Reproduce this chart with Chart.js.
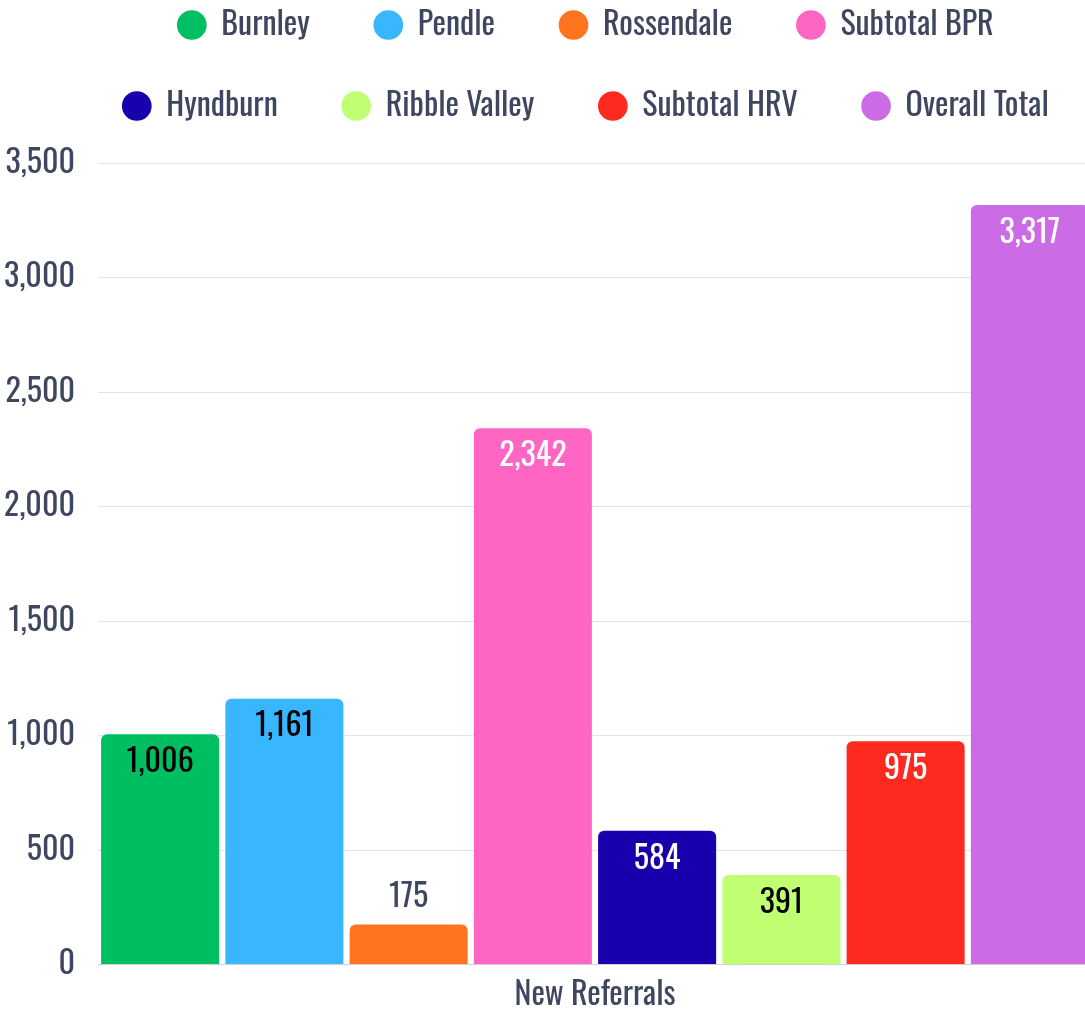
<!DOCTYPE html>
<html><head><meta charset="utf-8">
<script src="https://cdn.jsdelivr.net/npm/chart.js@4"></script>
<style>html,body{margin:0;padding:0;overflow:hidden;background:#fff}#wrap{width:1092px;height:1011px;position:relative}</style>
</head><body><div id="wrap"><canvas id="c"></canvas></div>
<script>
const categories = ["New Referrals"];
const seriesNames = ["Burnley","Pendle","Rossendale","Subtotal BPR","Hyndburn","Ribble Valley","Subtotal HRV","Overall Total"];
const seriesValues = [1006, 1161, 175, 2342, 584, 391, 975, 3317];
const seriesColors = ["#00BF63","#38B6FF","#FF751F","#FF66C4","#1800AD","#C1FF72","#FF2A1F","#CB6CE6"];
const labelColors = ["#000","#000","#3f4660","#fff","#fff","#000","#fff","#fff"];
const yTicks = [0,500,1000,1500,2000,2500,3000,3500];

const FONT = 'Oswald, "DejaVu Sans Condensed", sans-serif';
const FW = 400;
const FS = 32;
const TXT = '#3f4660';

const labelPlugin = {
  id:'vlabels',
  afterDatasetsDraw(chart){
    const ctx = chart.ctx;
    ctx.save();
    ctx.font = FW + ' ' + FS + 'px ' + FONT;
    ctx.textAlign = 'center';
    ctx.textBaseline = 'middle';
    chart.data.datasets.forEach((ds,i)=>{
      const meta = chart.getDatasetMeta(i);
      meta.data.forEach((bar,j)=>{
        const v = ds.data[j];
        const h = bar.base - bar.y;
        const txt = v.toLocaleString('en-US');
        let y;
        if (h < 60) { y = bar.y - 27; ctx.fillStyle = TXT; }
        else { y = bar.y + 28; ctx.fillStyle = labelColors[i]; }
        ctx.fillText(txt, bar.x, y);
      });
    });
    ctx.restore();
  }
};

const legendTweak = {
  id:'legendTweak',
  beforeInit(chart){
    const lg = chart.legend;
    if (!lg) return;
    const fit = lg.fit;
    lg.fit = function(){
      const mw = lg.maxWidth;
      lg.maxWidth = Math.min(mw, 1060);
      fit.call(lg);
      lg.maxWidth = mw;
      lg.height += 31;
    };
    const draw = lg.draw;
    lg.draw = function(a){
      const ctx = chart.ctx;
      ctx.save(); ctx.translate(48, 0); draw.call(lg, a); ctx.restore();
    };
  }
};

new Chart(document.getElementById('c'), {
  type:'bar',
  data:{
    labels: categories,
    datasets: seriesNames.map((n,i)=>({
      label:n, data:[seriesValues[i]], backgroundColor:seriesColors[i],
      borderRadius:6, borderSkipped:'bottom', barPercentage:0.95, categoryPercentage:1
    }))
  },
  options:{
    responsive:true, maintainAspectRatio:false, animation:false,
    layout:{padding:{top:-40, left:0, right:0, bottom:-14}},
    plugins:{
      legend:{position:'top', labels:{usePointStyle:true, pointStyle:'circle', boxWidth:27, boxHeight:21,
        padding:49, color:TXT, font:{family:FONT, size:FS, weight:FW},
        generateLabels(chart){
          const items = Chart.defaults.plugins.legend.labels.generateLabels(chart);
          items.forEach(it=>{ it.text = it.text + '\u2002'; });
          return items;
        }}},
      tooltip:{enabled:false}
    },
    scales:{
      x:{grid:{display:false, drawTicks:false}, border:{display:true, color:'#d0d0d0'},
         ticks:{color:TXT, font:{family:FONT, size:FS, weight:FW}, padding:11}},
      y:{min:0, max:3500, afterBuildTicks(s){ s.ticks = yTicks.map(v=>({value:v})); },
         afterFit(s){ s.width = 98; },
         grid:{color:'#e2e2e2', drawTicks:false}, border:{display:false},
         ticks:{color:TXT, font:{family:FONT, size:FS, weight:FW}, padding:23, callback:v=>v.toLocaleString('en-US')}}
    }
  },
  plugins:[labelPlugin, legendTweak]
});
</script></body></html>
